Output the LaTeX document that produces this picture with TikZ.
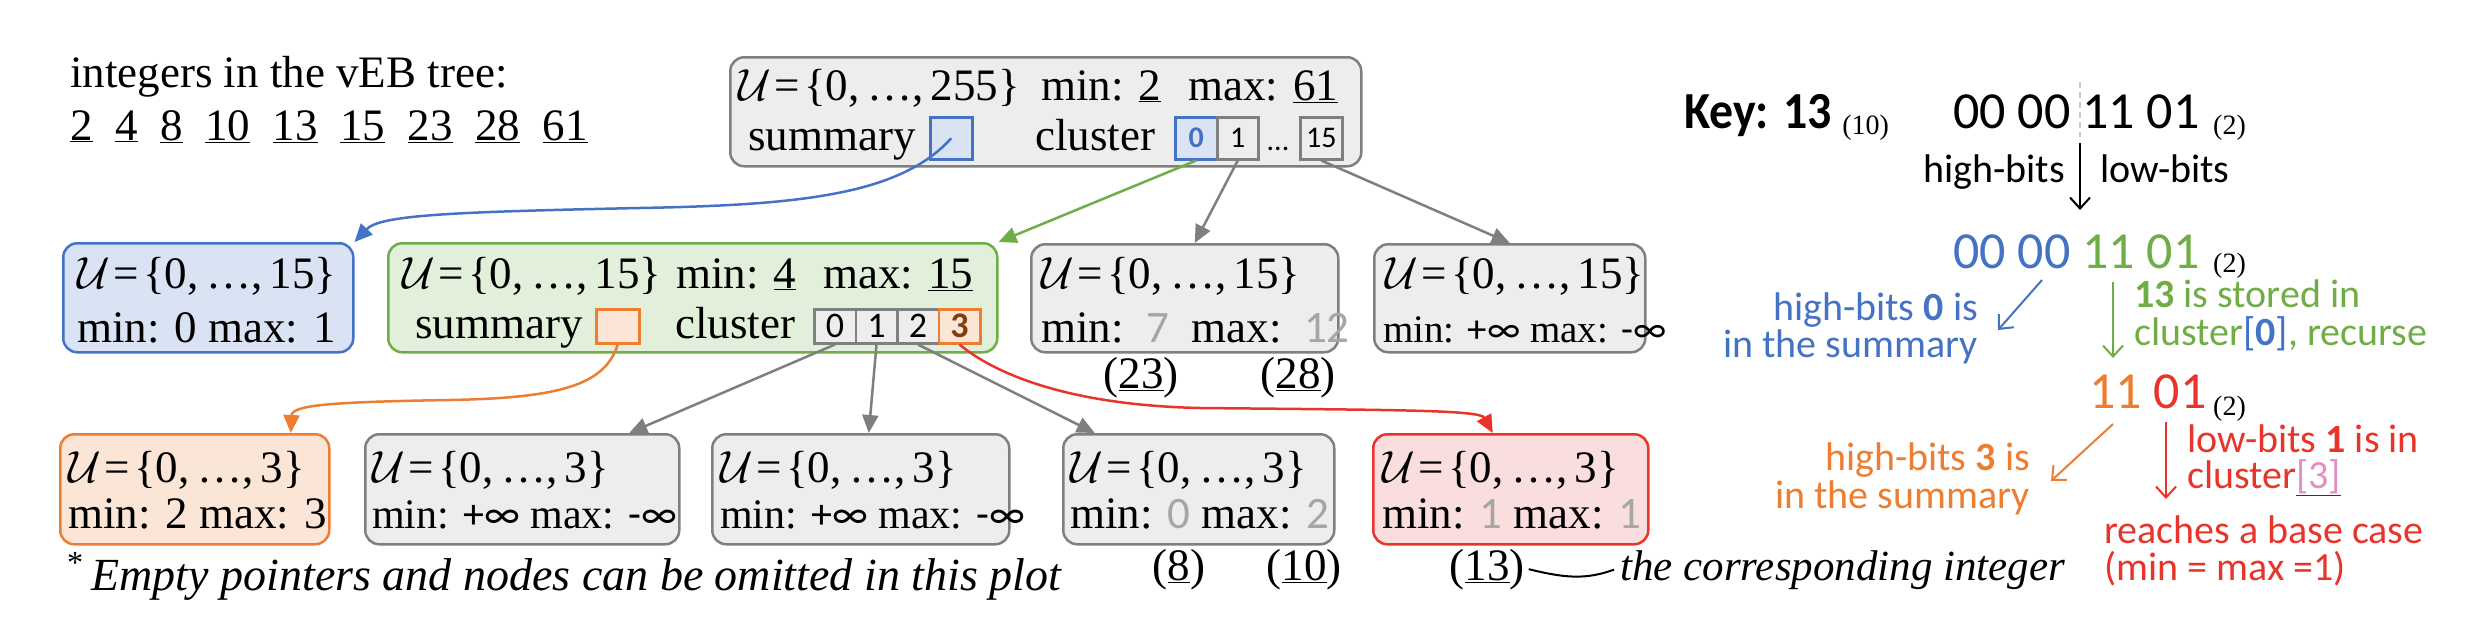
\RequirePackage{fix-cm}
\documentclass[tikz,border=0pt]{standalone}
\usepackage{graphicx}
\usepackage{fontspec}
\setmainfont{Liberation Serif}
\newfontfamily\calib{Carlito}
\usetikzlibrary{arrows.meta}
\definecolor{oblue}{HTML}{4472C4}
\definecolor{ogreen}{HTML}{70AD47}
\definecolor{oorange}{HTML}{ED7D31}
\definecolor{ored}{HTML}{E8352B}
\definecolor{bfill}{HTML}{DAE3F3}
\definecolor{gfill}{HTML}{E2EFDA}
\definecolor{ofill}{HTML}{FBE5D6}
\definecolor{rfill}{HTML}{FADEDE}
\definecolor{kfill}{HTML}{EDEDED}
\definecolor{kline}{HTML}{7F7F7F}
\definecolor{ltxt}{HTML}{A6A6A6}
\definecolor{brownthree}{HTML}{843C0C}
\definecolor{pinkthree}{HTML}{E48FC3}
\definecolor{ulblue}{HTML}{1F2FA0}
\definecolor{sepgray}{HTML}{C8C8C8}
\newcommand\Uset[1]{$\mathcal{U}$\kern4pt=\kern4pt\{0,\,…,\,#1\}}
\newcommand\gtx[1]{{\calib\color{ltxt}#1}}
\newcommand\pinf{{\calib +∞}}
\newcommand\minf{{\calib -∞}}
\begin{document}
\begin{tikzpicture}[x=1pt,y=-1pt,
  vebbox/.style={rounded corners=14pt, line width=2.5pt, anchor=north west, inner sep=0pt},
  graybox/.style={vebbox, draw=kline, fill=kfill},
  T/.style={inner sep=0pt, anchor=base west, font=\fontsize{45}{54}\selectfont},
  TS/.style={T, font=\fontsize{42}{50}\selectfont},
  TI/.style={T, font=\fontsize{43}{52}\selectfont\itshape},
  C/.style={inner sep=0pt, anchor=base west, font=\calib\fontsize{40}{48}\selectfont},
  BIG/.style={C, font=\calib\fontsize{52}{62}\selectfont},
  SUB/.style={T, font=\fontsize{28}{32}\selectfont},
  cell/.style={draw=kline, fill=kfill, line width=2.5pt, anchor=north west, inner sep=0pt, font=\calib\fontsize{30}{36}\selectfont},
  rcell/.style={cell, minimum width=42pt, minimum height=42pt},
  gcell/.style={cell, minimum width=41.5pt, minimum height=34pt, font=\calib\fontsize{36}{40}\selectfont},
  tarrow/.style={line width=2.5pt, -{Triangle[length=18pt,width=16pt]}},
  karrow/.style={line width=2pt, -{Straight Barb[length=11pt,width=20pt]}},
]
\useasboundingbox (0,0) rectangle (2470,632);

% integers
\node[T] (intro) at (70,87) {integers in the vEB tree:};
\node[T] (nums) at (70,140) {\underline{2}\enspace\underline{4}\enspace\underline{8}\enspace\underline{10}\enspace\underline{13}\enspace\underline{15}\enspace\underline{23}\enspace\underline{28}\enspace\underline{61}};

% root
\node[vebbox, draw=kline, fill=kfill, minimum width=631pt, minimum height=109pt] (root) at (729,56) {};
\node[T] (rU) at (738,100) {\Uset{255}};
\node[T] (rmin) at (1041,100) {min: \underline{2}};
\node[T] (rmax) at (1188,100) {max: \underline{61}};
\node[T] (rsum) at (748,150) {summary};
\node[rcell, draw=oblue, fill=bfill] (rsbox) at (929,116) {};
\node[T] (rclu) at (1035,150) {cluster};
\node[rcell, draw=oblue, fill=bfill, text=oblue, font=\calib\bfseries\fontsize{30}{36}\selectfont] (c0) at (1174,116) {0};
\node[rcell, minimum width=41pt] (c1) at (1216,116) {1};
\node[C, anchor=base, font=\calib\fontsize{30}{36}\selectfont] (cdots) at (1278,150) {...};
\node[rcell] (c15) at (1299,116) {15};

% level 2
\node[vebbox, draw=oblue, fill=bfill, minimum width=290pt, minimum height=109pt] (bl) at (62,242) {};
\node[T] (blU) at (77,288) {\Uset{15}};
\node[T] (blm) at (77,342) {min: 0 max: 1};

\node[vebbox, draw=ogreen, fill=gfill, minimum width=609pt, minimum height=109pt] (gn) at (387,242) {};
\node[T] (gU) at (402,288) {\Uset{15}};
\node[T] (gmin) at (676,288) {min: \underline{4}};
\node[T] (gmax) at (823,288) {max: \underline{15}};
\node[T] (gsum) at (415,338) {summary};
\node[cell, draw=oorange, fill=ofill, minimum width=43pt, minimum height=34pt] (gsbox) at (595,308) {};
\node[T] (gclu) at (675,338) {cluster};
\node[gcell] (g0) at (813,308) {0};
\node[gcell] (g1) at (854.5,308) {1};
\node[gcell] (g2) at (896,308) {2};
\node[gcell, draw=oorange, fill=ofill, text=brownthree, font=\calib\bfseries\fontsize{36}{40}\selectfont] (g3) at (937.5,308) {3};

\node[graybox, minimum width=307pt, minimum height=108pt] (ga) at (1030,243) {};
\node[T] (gaU) at (1041,288) {\Uset{15}};
\node[T] (gam) at (1041,342) {min:\enspace\gtx{7}\enspace max:\enspace\gtx{12}};
\node[T, anchor=base] (n23) at (1141,388) {(\underline{23})};
\node[T, anchor=base] (n28) at (1298,388) {(\underline{28})};

\node[graybox, minimum width=271pt, minimum height=108pt] (gb) at (1373,243) {};
\node[T] (gbU) at (1385,288) {\Uset{15}};
\node[T, font=\fontsize{39}{46}\selectfont] (gbm) at (1383,342) {min: \pinf\ max: \minf};

% level 3
\node[vebbox, draw=oorange, fill=ofill, minimum width=269pt, minimum height=110pt] (ob) at (59,433) {};
\node[T] (obU) at (68,482) {\Uset{3}};
\node[T] (obm) at (68,528) {min: 2 max: 3};

\node[graybox, minimum width=314pt, minimum height=110pt] (gc) at (364,433) {};
\node[T] (gcU) at (372,482) {\Uset{3}};
\node[TS] (gcm) at (372,528) {min: \pinf\ max: \minf};

\node[graybox, minimum width=297pt, minimum height=110pt] (gd) at (711,433) {};
\node[T] (gdU) at (720,482) {\Uset{3}};
\node[TS] (gdm) at (720,528) {min: \pinf\ max: \minf};

\node[graybox, minimum width=271pt, minimum height=110pt] (ge) at (1062,433) {};
\node[T] (geU) at (1070,482) {\Uset{3}};
\node[T] (gem) at (1070,528) {min: \gtx{0} max: \gtx{2}};

\node[vebbox, draw=ored, fill=rfill, minimum width=275pt, minimum height=110pt] (rf) at (1372,433) {};
\node[T] (rfU) at (1382,482) {\Uset{3}};
\node[T] (rfm) at (1382,528) {min: \gtx{1} max: \gtx{1}};

\node[T, anchor=base] (n8) at (1179,580) {(\underline{8})};
\node[T, anchor=base] (n10) at (1304,580) {(\underline{10})};
\node[T, anchor=base] (n13) at (1487,580) {(\underline{13})};
\node[TI] (note) at (1620,580) {the corresponding integer};
\draw[line width=2pt] ([xshift=4pt]n13.east) .. controls (1565,578) and (1585,580) .. ([xshift=-6pt]note.west);

\node[TI, font=\fontsize{46}{54}\selectfont\itshape] (foot) at (67,590) {\textsuperscript{\upshape *}\,Empty pointers and nodes can be omitted in this plot};

% tree arrows
\draw[tarrow, oblue] (rsbox.center) .. controls (900,195) and (800,205) .. (640,208) .. controls (450,212) and (380,215) .. (bl.north east);
\draw[tarrow, ogreen] (c0.south) -- (gn.north east);
\draw[tarrow, kline] (c1.south) -- ([xshift=10pt]ga.north);
\draw[tarrow, kline] (c15.south) -- (gb.north);
\draw[tarrow, oorange] (gsbox.south) .. controls (605,385) and (560,398) .. (450,400) .. controls (330,402) and (292,405) .. ([xshift=96pt]ob.north);
\draw[tarrow, kline] (g0.south) -- ([xshift=107pt]gc.north);
\draw[tarrow, kline] (g1.south) -- ([xshift=8pt]gd.north);
\draw[tarrow, kline] (g2.south) -- ([xshift=-104pt]ge.north);
\draw[tarrow, ored] (g3.south) .. controls (990,370) and (1060,405) .. (1200,408) .. controls (1400,410) and (1480,410) .. ([xshift=-18pt]rf.north);

% right side
\node[C, font=\calib\bfseries\fontsize{52}{60}\selectfont] (key) at (1684,128) {\scalebox{0.92}[1]{Key: 13}};
\node[SUB] (key10) at ([xshift=10pt,yshift=-6pt]key.base east) {(10)};
\node[BIG] (bits) at (1953,128) {00 00 11 01};
\node[SUB] (bits2) at (2213,134) {(2)};
\coordinate (sepT) at (2080,82);
\coordinate (sepB) at (2080,137);
\draw[sepgray, line width=2pt, dash pattern=on 6pt off 4pt] (sepT) -- (sepB);
\coordinate (kA) at (2080,143);
\coordinate (kB) at (2080,210);
\draw[karrow, black] (kA) -- (kB);
\node[C, anchor=base east] (hb) at (2065,182) {high-bits};
\node[C] (lb) at (2100,182) {low-bits};

\node[BIG] (cbits) at (1953,268) {\color{oblue}00 00 \color{ogreen}11 01};
\node[SUB] (cbits2) at (2213,272) {(2)};
\coordinate (bA) at (2042,280);
\coordinate (bB) at (1998,330);
\draw[karrow, oblue] (bA) -- (bB);
\node[C, anchor=base east, text=oblue] (hb0a) at (1978,320) {high-bits \textbf{0} is};
\node[C, anchor=base east, text=oblue] (hb0b) at (1978,357) {in the summary};
\coordinate (gA) at (2113,282);
\coordinate (gB) at (2113,358);
\draw[karrow, ogreen] (gA) -- (gB);
\node[C, text=ogreen] (st1) at (2134,307) {\textbf{13} is stored in};
\node[C, text=ogreen] (st2) at (2134,345) {cluster{\color{oblue}[\textbf{0}]}, recurse};

\node[BIG] (lbits) at (2089,408) {\color{oorange}11 \color{ored}01};
\node[SUB] (lbits2) at (2213,415) {(2)};
\coordinate (oA) at (2113,424);
\coordinate (oB) at (2051,481);
\draw[karrow, oorange] (oA) -- (oB);
\node[C, anchor=base east, text=oorange] (hb3a) at (2030,470) {high-bits \textbf{3} is};
\node[C, anchor=base east, text=oorange] (hb3b) at (2030,508) {in the summary};
\coordinate (rA) at (2166,422);
\coordinate (rB) at (2166,499);
\draw[karrow, ored] (rA) -- (rB);
\node[C, text=ored] (lb1a) at (2187,452) {low-bits \textbf{1} is in};
\node[C, text=ored] (lb1b) at (2187,488) {cluster{\color{ulblue}\underline{\textcolor{pinkthree}{[3]}}}};
\node[C, text=ored] (base1) at (2104,543) {reaches a base case};
\node[C, text=ored] (base2) at (2104,580) {(min = max =1)};
\end{tikzpicture}
\end{document}
